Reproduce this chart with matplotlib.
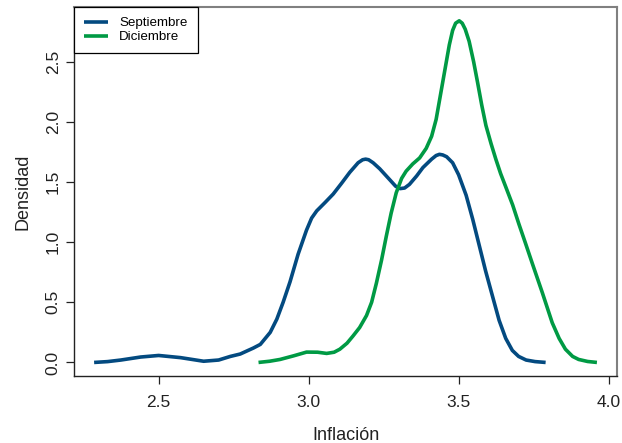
import matplotlib
matplotlib.use("Agg")
import matplotlib.pyplot as plt

plt.rcParams['font.family'] = ['Liberation Sans', 'DejaVu Sans']

# density estimates (x = inflation, y = density)
sep_x = [2.285, 2.33, 2.374, 2.44, 2.50, 2.573, 2.65, 2.70, 2.739, 2.772,
         2.816, 2.839, 2.872, 2.894, 2.915, 2.938, 2.965, 2.993, 3.01, 3.027,
         3.055, 3.082, 3.11, 3.137, 3.165, 3.18, 3.19, 3.20, 3.215, 3.237,
         3.27, 3.29, 3.305, 3.32, 3.336, 3.36, 3.381, 3.41, 3.425, 3.436,
         3.447, 3.46, 3.48, 3.50, 3.525, 3.547, 3.569, 3.59, 3.613, 3.635,
         3.657, 3.679, 3.70, 3.725, 3.755, 3.79]
sep_y = [0.0, 0.007, 0.02, 0.045, 0.058, 0.04, 0.01, 0.02, 0.05, 0.07,
         0.12, 0.15, 0.25, 0.36, 0.50, 0.67, 0.90, 1.10, 1.20, 1.26,
         1.33, 1.40, 1.49, 1.58, 1.66, 1.685, 1.69, 1.685, 1.66, 1.61,
         1.52, 1.465, 1.445, 1.45, 1.48, 1.55, 1.62, 1.69, 1.72, 1.73,
         1.725, 1.71, 1.66, 1.56, 1.39, 1.19, 0.97, 0.76, 0.55, 0.35,
         0.20, 0.10, 0.05, 0.02, 0.007, 0.0]

dic_x = [2.833, 2.87, 2.905, 2.95, 2.993, 3.03, 3.06, 3.085, 3.104, 3.128,
         3.148, 3.17, 3.193, 3.21, 3.226, 3.243, 3.259, 3.275, 3.292, 3.31,
         3.325, 3.347, 3.37, 3.392, 3.41, 3.425, 3.447, 3.469, 3.48, 3.49,
         3.502, 3.512, 3.522, 3.535, 3.55, 3.563, 3.577, 3.591, 3.608, 3.624,
         3.64, 3.657, 3.68, 3.701, 3.723, 3.746, 3.779, 3.812, 3.835, 3.856,
         3.88, 3.90, 3.93, 3.961]
dic_y = [0.0, 0.01, 0.025, 0.055, 0.086, 0.085, 0.075, 0.085, 0.11, 0.16,
         0.22, 0.29, 0.39, 0.50, 0.66, 0.85, 1.05, 1.24, 1.41, 1.53,
         1.59, 1.65, 1.70, 1.78, 1.88, 2.02, 2.33, 2.64, 2.76, 2.82,
         2.84, 2.82, 2.77, 2.67, 2.50, 2.33, 2.14, 1.97, 1.82, 1.69,
         1.57, 1.46, 1.31, 1.15, 0.99, 0.82, 0.58, 0.33, 0.20, 0.11,
         0.05, 0.025, 0.008, 0.0]

x_ticks = [2.5, 3.0, 3.5, 4.0]
y_ticks = [0.0, 0.5, 1.0, 1.5, 2.0, 2.5]
labels = ['Septiembre', 'Diciembre']
colors = ['#034a80', '#009a44']

fig = plt.figure(figsize=(6.22, 4.43), dpi=100)
ax = fig.add_axes([0.119, 0.151, 0.873, 0.833])

ax.plot(sep_x, sep_y, color=colors[0], lw=2.6, label=labels[0], solid_capstyle='butt')
ax.plot(dic_x, dic_y, color=colors[1], lw=2.6, label=labels[1], solid_capstyle='butt')

ax.set_xlim(2.218, 4.028)
ax.set_ylim(-0.1136, 2.954)
ax.set_xticks(x_ticks)
ax.set_xticklabels(['%.1f' % v for v in x_ticks])
ax.set_yticks(y_ticks)
ax.set_yticklabels(['%.1f' % v for v in y_ticks], rotation=90, va='center')
ax.tick_params(direction='out', length=5.6, width=0.9, colors='#222222',
               labelsize=12.5, labelcolor='#222222')
ax.tick_params(axis='x', pad=8)
ax.tick_params(axis='y', pad=4)

for side in ['left', 'bottom']:
    ax.spines[side].set_color('#222222')
    ax.spines[side].set_linewidth(1.0)
for side in ['top', 'right']:
    ax.spines[side].set_color('#808080')
    ax.spines[side].set_linewidth(1.5)

ax.set_xlabel('Inflación', fontsize=13, color='#222222', labelpad=12)
ax.set_ylabel('Densidad', fontsize=13, color='#222222', labelpad=10)

leg = ax.legend(loc='upper left', bbox_to_anchor=(0, 1), borderaxespad=0,
                fancybox=False, edgecolor='black', framealpha=1,
                fontsize=9.6, handlelength=1.8, handletextpad=0.85,
                labelspacing=0.12, borderpad=0.75)
leg.get_frame().set_linewidth(0.9)

fig.savefig('out.png', dpi=100)
